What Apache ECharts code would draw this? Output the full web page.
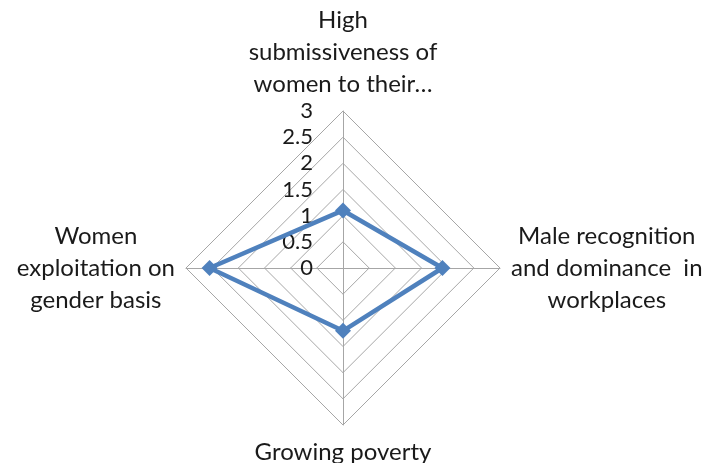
<!DOCTYPE html>
<html><head><meta charset="utf-8">
<script src="https://cdn.jsdelivr.net/npm/echarts@6/dist/echarts.min.js"></script>
<style>html,body{margin:0;padding:0;background:#fff}#c{width:705px;height:463px}</style>
</head><body><div id="c"></div>
<script>
// Indicators listed in ECharts radar order (counter-clockwise from top)
const indicatorNames = [
  'High\nsubmissiveness of\nwomen to their\u2026',
  'Women\nexploitation on\ngender basis',
  'Growing poverty',
  'Male recognition\nand dominance  in\nworkplaces'
];
const values = [1.1, 2.55, 1.2, 1.9];
const axisMax = 3;
const tickInterval = 0.5;

const chart = echarts.init(document.getElementById('c'));
chart.setOption({
  animation: false,
  radar: {
    center: [343, 268],
    radius: 157,
    startAngle: 90,
    shape: 'polygon',
    splitNumber: axisMax / tickInterval,
    indicator: indicatorNames.map((n, i) => {
      const o = { name: n, min: 0, max: axisMax };
      if (i === 0) o.axisLabel = { show: true };
      return o;
    }),
    axisName: {
      formatter: (v) => v.split('\n').map(l => '{c|' + l + '}').join('\n'),
      color: '#1a1a1a',
      fontFamily: 'Lato',
      fontSize: 24,
      lineHeight: 32,
      rich: { c: { align: 'center', fontFamily: 'Lato', fontSize: 24, lineHeight: 32, color: '#1a1a1a' } }
    },
    nameGap: 11,
    axisLabel: {
      show: false,
      margin: 30,
      color: '#1a1a1a',
      fontFamily: 'Lato',
      fontSize: 22,
      formatter: (v) => String(v)
    },
    axisLine: { lineStyle: { color: '#a6a6a6', width: 1 } },
    splitLine: { lineStyle: { color: '#a6a6a6', width: 1 } },
    splitArea: { show: false }
  },
  series: [{
    type: 'radar',
    symbol: 'diamond',
    symbolSize: 16,
    lineStyle: { color: '#4f81bd', width: 4.5 },
    itemStyle: { color: '#4f81bd' },
    data: [{ value: values }]
  }]
});
</script></body></html>
